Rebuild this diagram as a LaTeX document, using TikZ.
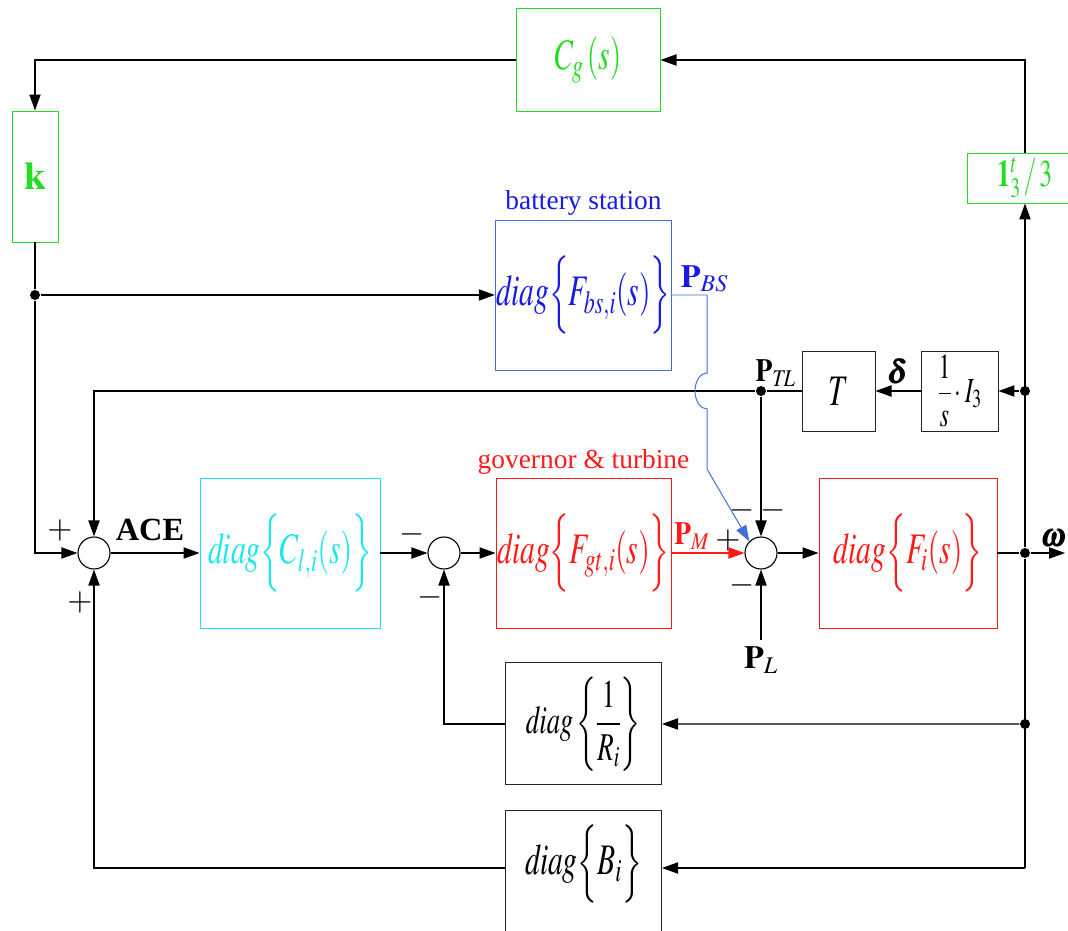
\documentclass[tikz,border=0pt]{standalone}
\usepackage{amsmath}
\usepackage{mathptmx}
\usepackage{fontspec}
\setmainfont{Liberation Serif}
\usetikzlibrary{arrows.meta,positioning,calc}
\definecolor{gridgreen}{HTML}{22DD22}
\definecolor{batteryblue}{HTML}{1A1AE6}
\definecolor{batteryline}{HTML}{3F6FD8}
\definecolor{turbinered}{HTML}{FF1A1A}
\definecolor{ctrlcyan}{HTML}{19E6EE}
\newcommand{\narrow}[1]{\scalebox{0.68}[1]{#1}}
\newcommand{\dg}[1]{\narrow{$\mathit{diag}\Big\{#1\Big\}$}}
\tikzset{
  blockbox/.style={
    draw=black!85,
    line width=0.7pt,
    minimum width=3.9cm,
    minimum height=3.05cm,
    inner sep=1pt,
    align=center,
    font=\fontsize{31}{34}\selectfont
  },
  greenbox/.style={blockbox, draw=gridgreen, text=gridgreen},
  bluebox/.style={blockbox, draw=batteryline, text=batteryblue,
    minimum width=4.325cm, minimum height=3.75cm},
  redbox/.style={blockbox, draw=turbinered, text=turbinered,
    minimum height=3.75cm},
  cyanbox/.style={blockbox, draw=ctrlcyan, text=ctrlcyan,
    minimum width=4.5cm, minimum height=3.75cm},
  sumnode/.style={circle, draw, line width=0.8pt, fill=white,
    minimum size=0.8cm, inner sep=0pt},
  dotnode/.style={circle, fill=black, minimum size=0.25cm, inner sep=0pt},
  signlbl/.style={font=\fontsize{23}{26}\selectfont, inner sep=0pt},
  caption/.style={font=\fontsize{19.5}{22}\selectfont, inner sep=1pt},
  arrow/.style={
    -{Triangle[length=4mm,width=2.8mm]},
    line width=0.9pt
  }
}
\begin{document}
\begin{tikzpicture}[line width=0.9pt]
\useasboundingbox (0,0) rectangle (26.7,-23.275);
% main row
\node[sumnode] (sum1) at (2.35,-13.825) {};
\node[cyanbox] (cl) at (7.25,-13.825) {\dg{C_{l,i}(s)}};
\node[sumnode] (sum2) at (11.1,-13.825) {};
\node[redbox, minimum width=4.325cm] (gt) at (14.5875,-13.825) {\dg{F_{gt,i}(s)}};
\node[sumnode] (sum3) at (19.025,-13.825) {};
\node[redbox, minimum width=4.45cm, right=3.675cm of gt] (fi) {\dg{F_i(s)}};
% feedback blocks
\node[blockbox, below=0.85cm of gt, minimum height=3.05cm, font=\fontsize{28}{30}\selectfont] (ri) {\narrow{$\mathit{diag}\left\{\dfrac{1}{R_i}\right\}$}};
\node[blockbox, below=0.625cm of ri, minimum height=3.6cm, text height=0.7cm, text depth=1.1cm] (bi) {\dg{B_i}};
\node[bluebox] (bs) at (14.5875,-7.375) {\dg{F_{bs,i}(s)}};
\node[blockbox, minimum width=1.825cm, minimum height=2cm] (T) at (20.9625,-9.775) {\narrow{$T$}};
\node[blockbox, minimum width=1.925cm, minimum height=2cm, right=1.125cm of T, font=\fontsize{25}{28}\selectfont] (integ) {\narrow{$\dfrac{1}{s}\cdot I_3$}};
% grid level blocks
\node[greenbox, minimum width=3.6cm, minimum height=2.575cm] (cg) at (14.7,-1.5) {\narrow{$C_g\,(s)$}};
\node[greenbox, minimum width=1.15cm, minimum height=3.275cm, font=\fontsize{28}{30}\selectfont] (k) at (0.875,-4.4125) {$\mathbf{k}$};
\node[greenbox, minimum width=2.9cm, minimum height=1.25cm, font=\fontsize{27}{30}\selectfont] (ones) at (25.625,-4.45) {\narrow{$\mathbf{1}_3^t\,/\,3$}};
% branch points
\node[dotnode] (d1) at (0.875,-7.375) {};
\node[dotnode] (dTL) at (19.025,-9.775) {};
\node[dotnode] (dI) at (25.625,-9.775) {};
\node[dotnode] (dW) at (25.625,-13.825) {};
\node[dotnode] (dR) at (25.625,-18.1) {};
\coordinate (wout) at (26.625,-13.825);
\coordinate (brow) at (25.625,-21.7);
\coordinate (pl) at (19.025,-16.0);
% captions and signals
\node[caption, text=batteryblue, above=0.05cm of bs] {battery station};
\node[caption, text=turbinered, above=0.02cm of gt] {governor \& turbine};
\node[signlbl, anchor=south west] at ($(bs.east)+(0.2,0.05)$) {\color{batteryblue}$\mathbf{P}_{\mathit{BS}}$};
\node[signlbl, text=turbinered] at (17.3,-13.4) {\scalebox{0.85}[1]{$\mathbf{P}_M$}};
\node[signlbl, anchor=south west] at ($(dTL)+(-0.15,0.1)$) {\scalebox{0.85}[1]{$\mathbf{P}_{\mathit{TL}}$}};
\node[signlbl, below=0.15cm of pl] {$\mathbf{P}_L$};
\node[signlbl] at (3.75,-13.25) {\bfseries ACE};
\node[signlbl] at (26.35,-13.45) {$\pmb{\omega}$};
% signs
\node[signlbl] at (1.5,-13.25) {$+$};
\node[signlbl] at (2.0,-15.05) {$+$};
\node[signlbl] at (10.3,-13.35) {$-$};
\node[signlbl] at (10.75,-14.925) {$-$};
\node[signlbl] at (18.2,-13.5) {$+$};
\node[signlbl] at (18.55,-12.75) {$-$};
\node[signlbl] at (19.325,-12.75) {$-$};
\node[signlbl] at (18.55,-14.625) {$-$};
% connectors
\draw[arrow] (ones.north) |- (cg.east);
\draw[arrow] (cg.west) -| (k.north);
\draw (k.south) -- (d1);
\draw[arrow] (d1) |- (sum1.west);
\draw[arrow] (d1) -- (bs.west);
\draw[arrow] (sum1.east) -- (cl.west);
\draw[arrow] (cl.east) -- (sum2.west);
\draw[arrow] (sum2.east) -- (gt.west);
\draw[arrow, draw=turbinered] (gt.east) -- (sum3.west);
\draw[arrow] (sum3.east) -- (fi.west);
\draw (fi.east) -- (dW);
\draw[arrow] (dW) -- (wout);
\draw[arrow] (dW) -- (ones.south);
\draw (dW) -- (brow);
\draw[arrow] (brow) -- (brow -| bi.east);
\draw[arrow] (dR) -- (ri.east);
\draw[arrow] (ri.west) -| (sum2.south);
\draw[arrow] (brow -| bi.west) -| (sum1.south);
\draw[arrow] (dI) -- (integ.east);
\draw[arrow] (integ.west) -- node[signlbl, above=0.15cm] {$\pmb{\delta}$} (T.east);
\draw (T.west) -- (dTL);
\draw[arrow] (dTL) -- (sum3.north);
\draw[arrow] (dTL) -| (sum1.north);
\draw[arrow] (pl) -- (sum3.south);
\draw[arrow, draw=batteryline, line width=0.7pt] (bs.east) -| (17.675,-9.325)
  arc[start angle=90, end angle=270, x radius=0.3cm, y radius=0.45cm]
  -- (17.675,-11.725) -- (sum3.north west);
\end{tikzpicture}
\end{document}
